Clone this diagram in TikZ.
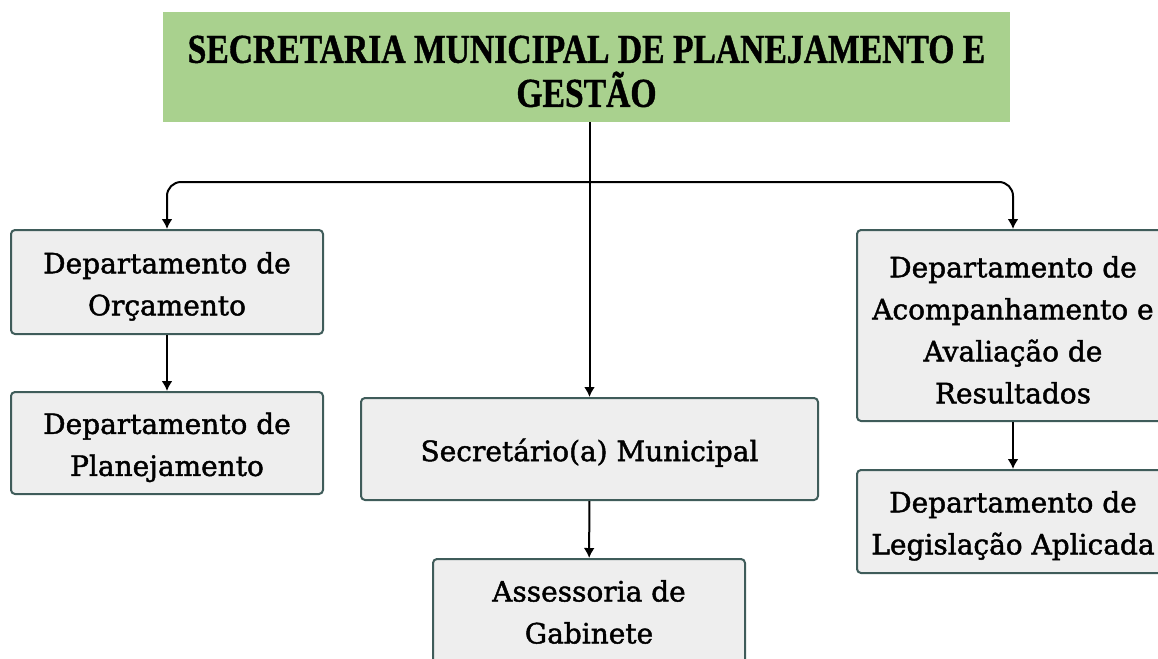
\documentclass[tikz,border=0pt]{standalone}
\usepackage{fontspec}
\setmainfont[FakeBold=1.6]{DejaVu Serif}
\newfontfamily\titlefont[FakeStretch=0.82,BoldFeatures={FakeBold=1}]{Liberation Serif}
\usepackage{tikz}
\usetikzlibrary{arrows.meta}

\definecolor{topgreen}{HTML}{A9D18E}
\definecolor{boxgrey}{HTML}{EEEEEE}
\definecolor{boxline}{HTML}{3F5C5A}

\tikzset{
  unit/.style={draw=boxline, fill=boxgrey, line width=1pt, rounded corners=2pt,
    align=center, inner sep=0pt, minimum width=156pt, font=\fontsize{14}{21}\selectfont},
  head/.style={fill=topgreen, align=center, inner sep=0pt, minimum width=423.5pt,
    minimum height=55pt, font=\titlefont\bfseries\fontsize{20.5}{22}\selectfont},
  link/.style={->, line width=1pt}
}
% strut that pushes the first line down a little
\newcommand{\lowtop}{\rule{0pt}{15pt}}

\begin{document}
\begin{tikzpicture}[x=0.5pt,y=-0.5pt,auto,>={Latex[length=5pt,width=5.5pt]}]
	\useasboundingbox (0,0) rectangle (1158,659);
	\clip (0,0) rectangle (1158,659);
	\node [head] (sec) at (586.5,67) {\rule{0pt}{18pt}SECRETARIA MUNICIPAL DE PLANEJAMENTO E\\GESTÃO};
	\node [unit, minimum height=52pt] (orc) at (167,282) {\lowtop Departamento de\\Orçamento};
	\node [unit, minimum height=51pt] (pla) at (167,443) {\lowtop Departamento de\\Planejamento};
	\node [unit, minimum height=51pt, minimum width=228.5pt] (scm) at (589.5,449) {\lowtop Secretário(a) Municipal};
	\node [unit, minimum height=53pt] (ass) at (589,612) {Assessoria de\\Gabinete};
	\node [unit, minimum height=95.5pt] (acp) at (1013,325.5) {\lowtop Departamento de\\Acompanhamento e\\Avaliação de\\Resultados};
	\node [unit, minimum height=51.5pt] (leg) at (1013,521.5) {\lowtop Departamento de\\Legislação Aplicada};
	\coordinate (bar) at (589.5,182);
	\draw [link] (sec.south -| scm.north) -- (scm.north);
	\draw [link, rounded corners=7pt] (bar) -| (orc.north);
	\draw [link, rounded corners=7pt] (bar) -| (acp.north);
	\draw [link] (orc) -- (pla);
	\draw [link] (scm) -- (ass);
	\draw [link] (acp) -- (leg);
\end{tikzpicture}
\end{document}
